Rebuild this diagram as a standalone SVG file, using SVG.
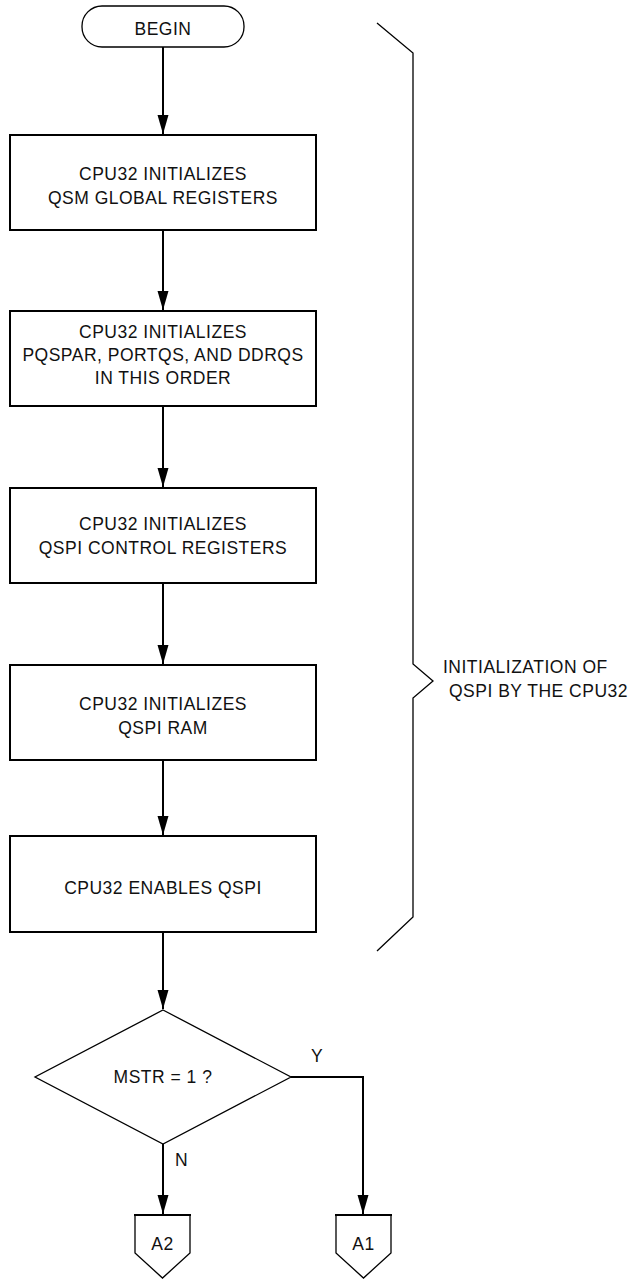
<svg xmlns="http://www.w3.org/2000/svg" width="635" height="1280" viewBox="0 0 635 1280">
<style>
text{font-family:"Liberation Sans",Arial,sans-serif;font-size:17.5px;letter-spacing:0.5px;fill:#111;text-anchor:middle}
.box{fill:#fff;stroke:#000;stroke-width:2}
.thin{fill:none;stroke:#000;stroke-width:1.3}
.conn{fill:none;stroke:#000;stroke-width:2}
.lbl{text-anchor:start}
</style>
<defs>
<marker id="arrd" markerUnits="userSpaceOnUse" markerWidth="20" markerHeight="12" refX="19" refY="6" orient="auto" viewBox="0 0 20 12">
<path d="M0,0.5 L19,6 L0,11.5 Z" fill="#000"/>
</marker>
</defs>
<g id="connectors">
<path class="conn" d="M163,47 V134" marker-end="url(#arrd)"/>
<path class="conn" d="M163,230 V310" marker-end="url(#arrd)"/>
<path class="conn" d="M163,406 V487" marker-end="url(#arrd)"/>
<path class="conn" d="M163,583 V664" marker-end="url(#arrd)"/>
<path class="conn" d="M163,760 V835" marker-end="url(#arrd)"/>
<path class="conn" d="M163,932 V1009" marker-end="url(#arrd)"/>
<path class="conn" d="M163,1144 V1214" marker-end="url(#arrd)"/>
<path class="conn" d="M291,1077 H363 V1214" marker-end="url(#arrd)"/>
<text class="lbl" x="175" y="1166">N</text>
<text class="lbl" x="311" y="1062">Y</text>
</g>
<g id="begin">
<rect class="thin" x="82" y="6" width="162" height="41" rx="20" ry="20" fill="#fff"/>
<text x="163" y="35">BEGIN</text>
</g>
<g id="box1">
<rect class="box" x="10" y="135" width="306" height="95"/>
<text x="163" y="180">CPU32 INITIALIZES</text>
<text x="163" y="204">QSM GLOBAL REGISTERS</text>
</g>
<g id="box2">
<rect class="box" x="10" y="311" width="306" height="95"/>
<text x="163" y="338">CPU32 INITIALIZES</text>
<text x="163" y="361">PQSPAR, PORTQS, AND DDRQS</text>
<text x="163" y="384">IN THIS ORDER</text>
</g>
<g id="box3">
<rect class="box" x="10" y="488" width="306" height="95"/>
<text x="163" y="530">CPU32 INITIALIZES</text>
<text x="163" y="554">QSPI CONTROL REGISTERS</text>
</g>
<g id="box4">
<rect class="box" x="10" y="665" width="306" height="95"/>
<text x="163" y="710">CPU32 INITIALIZES</text>
<text x="163" y="734">QSPI RAM</text>
</g>
<g id="box5">
<rect class="box" x="10" y="836" width="306" height="96"/>
<text x="163" y="894">CPU32 ENABLES QSPI</text>
</g>
<g id="decision">
<path class="thin" d="M163,1010 L291,1077 L163,1144 L35,1077 Z" fill="#fff"/>
<text x="163" y="1083">MSTR = 1 ?</text>
</g>
<g id="A2">
<path class="thin" d="M135,1215 V1253 L162.5,1278 L190,1253 V1215"/>
<path class="conn" d="M134,1215 H191"/>
<text x="162.5" y="1250">A2</text>
</g>
<g id="A1">
<path class="thin" d="M336,1215 V1253 L363.5,1278 L391,1253 V1215"/>
<path class="conn" d="M335,1215 H392"/>
<text x="363.5" y="1250">A1</text>
</g>
<g id="brace">
<path class="thin" d="M377,23 L413,53 V664 L433,681 L413,698 V917 L377,951"/>
<text class="lbl" x="443" y="673">INITIALIZATION OF</text>
<text class="lbl" x="449" y="697">QSPI BY THE CPU32</text>
</g>
</svg>
